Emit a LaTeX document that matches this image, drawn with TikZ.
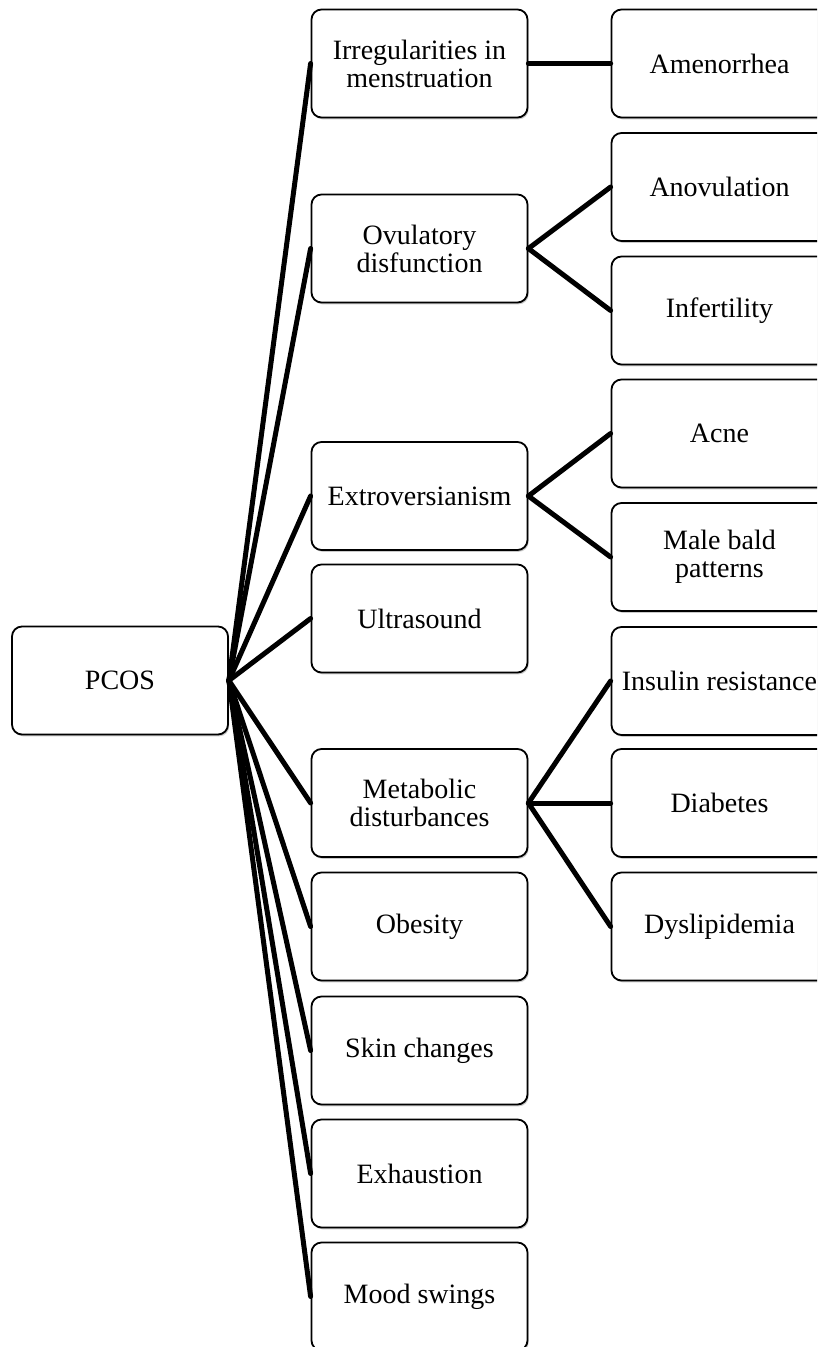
\documentclass[tikz,border=0pt]{standalone}
\usepackage{fontspec}
\setmainfont{Liberation Serif}
\usetikzlibrary{shadows}
\begin{document}
\begin{tikzpicture}[x=1pt,y=-1pt,
  box/.style={draw=black, line width=1.8pt, fill=white, rounded corners=10pt,
    minimum width=216pt, minimum height=108pt, align=center, inner sep=2pt,
    font=\fontsize{28}{28}\selectfont,
    drop shadow={shadow xshift=1.2pt, shadow yshift=-1.8pt, opacity=0.35, fill=black!60}},
  link/.style={line width=5pt, line cap=round}]
\useasboundingbox (0,0) rectangle (817,1347);
\clip (0,0) rectangle (817,1347);
% root
\node[box] (pcos) at (120,680.5) {PCOS};
% middle column
\node[box] (irr) at (419.5,63.5) {Irregularities in\\menstruation};
\node[box] (ovu) at (419.5,248.5) {Ovulatory\\disfunction};
\node[box] (ext) at (419.5,496) {Extroversianism};
\node[box] (ult) at (419.5,618.5) {Ultrasound};
\node[box] (met) at (419.5,803) {Metabolic\\disturbances};
\node[box] (obe) at (419.5,926.5) {Obesity};
\node[box] (skin) at (419.5,1050.5) {Skin changes};
\node[box] (exh) at (419.5,1173.5) {Exhaustion};
\node[box] (mood) at (419.5,1296.5) {Mood swings};
% right column
\node[box] (ame) at (719.5,63.5) {Amenorrhea};
\node[box] (ano) at (719.5,187) {Anovulation};
\node[box] (inf) at (719.5,310.5) {Infertility};
\node[box] (acne) at (719.5,433.5) {Acne};
\node[box] (male) at (719.5,557) {Male bald\\patterns};
\node[box] (ins) at (719.5,681) {Insulin resistance};
\node[box] (dia) at (719.5,803) {Diabetes};
\node[box] (dys) at (719.5,926.5) {Dyslipidemia};
% connectors
\foreach \m in {irr,ovu,ext,ult,met,obe,skin,exh,mood}
  \draw[link] (pcos.east) -- (\m.west);
\draw[link] (irr.east) -- (ame.west);
\draw[link] (ovu.east) -- (ano.west);
\draw[link] (ovu.east) -- (inf.west);
\draw[link] (ext.east) -- (acne.west);
\draw[link] (ext.east) -- (male.west);
\draw[link] (met.east) -- (ins.west);
\draw[link] (met.east) -- (dia.west);
\draw[link] (met.east) -- (dys.west);
\end{tikzpicture}
\end{document}
